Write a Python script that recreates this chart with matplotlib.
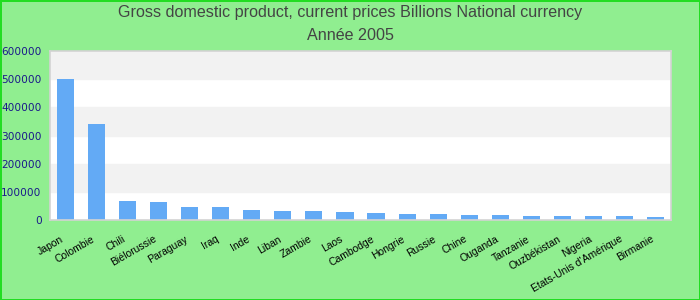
import matplotlib
matplotlib.use("Agg")
import matplotlib.pyplot as plt
import matplotlib.transforms as mtransforms

# 데이터
pays = ["Japon", "Colombie", "Chili", "Biélorussie", "Paraguay", "Iraq", "Inde",
        "Liban", "Zambie", "Laos", "Cambodge", "Hongrie", "Russie", "Chine",
        "Ouganda", "Tanzanie", "Ouzbékistan", "Nigeria", "Etats-Unis d'Amérique",
        "Birmanie"]
pib = [501000, 341000, 68000, 64000, 46000, 46000, 35000,
       32000, 32000, 28000, 25000, 21000, 21000, 18000,
       18000, 15000, 15000, 15000, 14000, 11000]
y_ticks = [0, 100000, 200000, 300000, 400000, 500000, 600000]

fig = plt.figure(figsize=(7, 3), dpi=100, facecolor="#90ee90",
                 edgecolor="#22dd22", linewidth=2)
ax = fig.add_axes([50 / 700, 80 / 300, 621 / 700, 169 / 300])
ax.set_facecolor("white")

# 배경 띠
for i in range(len(y_ticks) - 1):
    if i % 2 == 1:
        ax.axhspan(y_ticks[i], y_ticks[i + 1], color="#f2f2f2", zorder=0)

x = range(len(pays))
ax.bar(x, pib, width=0.55, color="#63aaf5", zorder=2)

ax.set_xlim(-0.5, len(pays) - 0.5)
ax.set_ylim(0, 600000)
ax.set_yticks(y_ticks)
ax.set_yticklabels([str(v) for v in y_ticks], color="#1a1a8a",
                   fontsize=7.6, family="DejaVu Sans")
ax.set_xticks(list(x))
ax.set_xticklabels(pays, rotation=30, ha="right", rotation_mode="anchor",
                   fontsize=7.5, family="Liberation Sans", color="black")
ax.tick_params(axis="both", length=0)
ax.tick_params(axis="y", pad=6)
ax.tick_params(axis="x", pad=10)
# 라벨을 왼쪽으로 조금 이동
offset = mtransforms.ScaledTranslation(-5 / 100, 0, fig.dpi_scale_trans)
for lab in ax.get_xticklabels():
    lab.set_transform(lab.get_transform() + offset)
for s in ax.spines.values():
    s.set_color("#d3d3d3")
    s.set_linewidth(1.2)

fig.text(0.5, 1 - 13 / 300, "Gross domestic product, current prices Billions National currency",
         ha="center", va="center", fontsize=11.6, color="#444444", family="Liberation Sans")
fig.text(0.5, 1 - 36 / 300, "Année 2005",
         ha="center", va="center", fontsize=11.6, color="#444444", family="Liberation Sans")

fig.savefig("out.png", dpi=100, facecolor=fig.get_facecolor(), edgecolor=fig.get_edgecolor())
